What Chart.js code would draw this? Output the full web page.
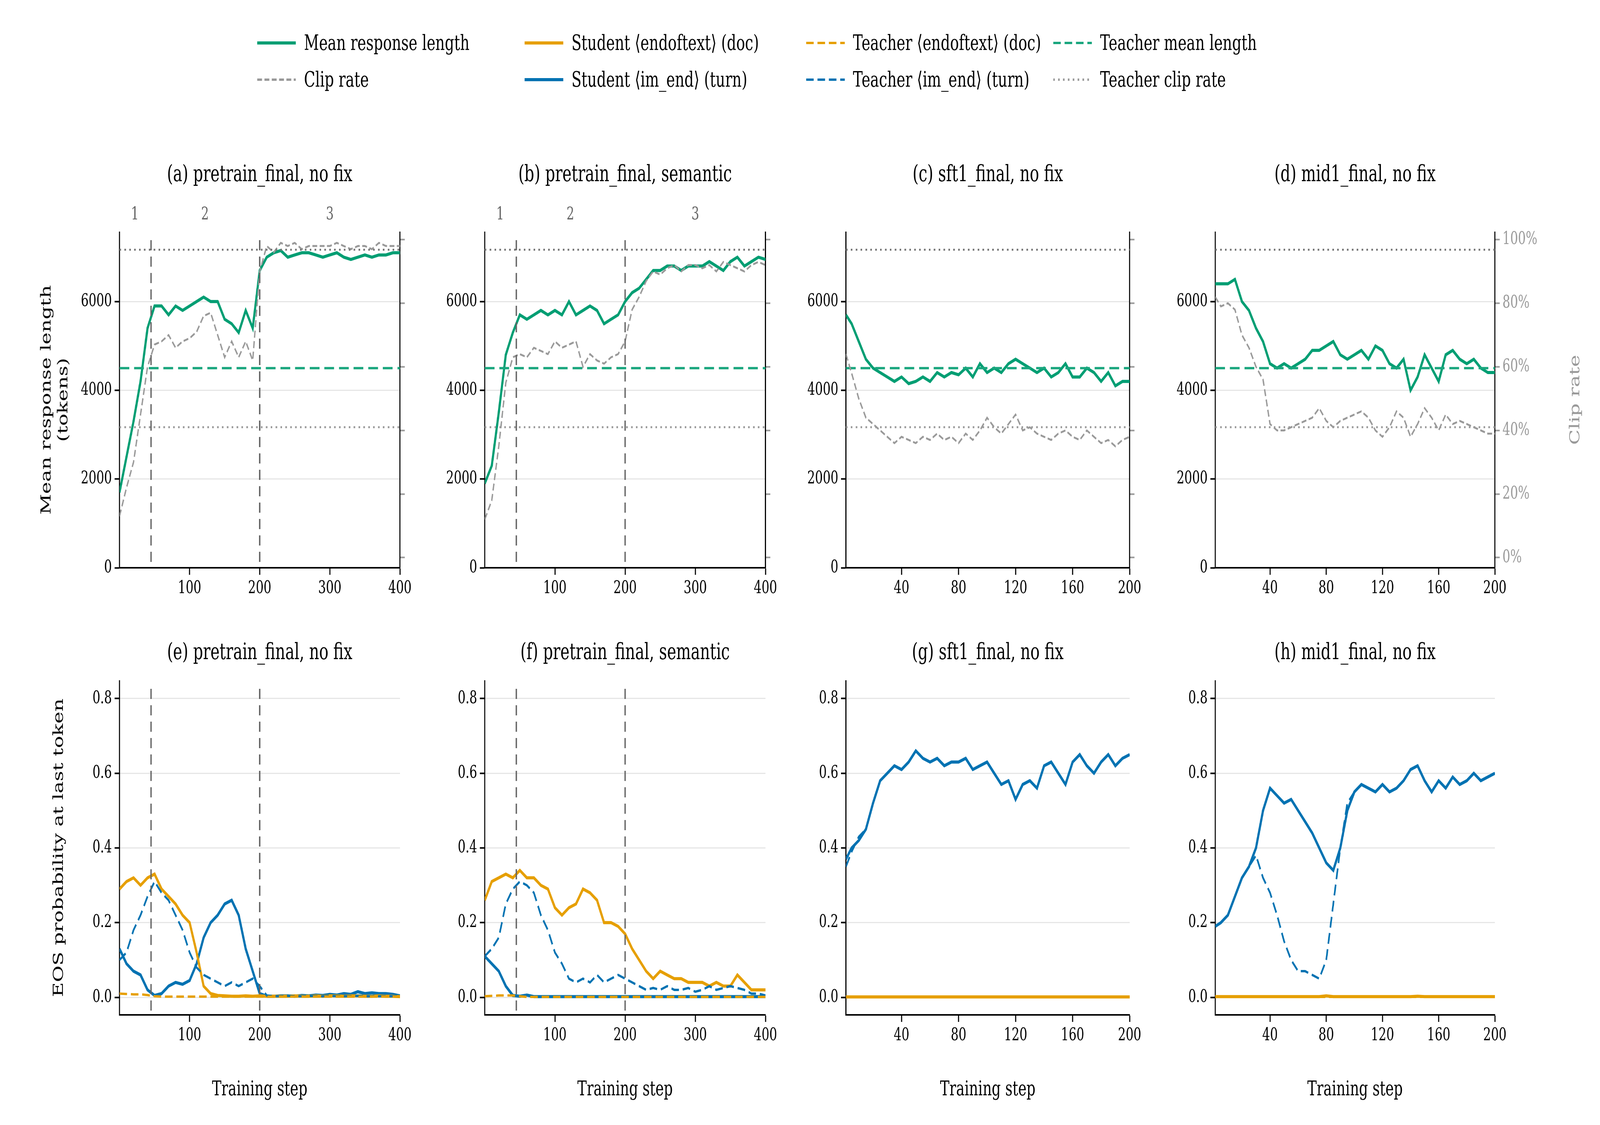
<!DOCTYPE html>
<html>
<head>
<meta charset="utf-8">
<script src="https://cdn.jsdelivr.net/npm/chart.js@4.4.1/dist/chart.umd.min.js"></script>
<style>
  html, body { margin: 0; background: #fff; overflow: hidden; }
  #stage { width: 5905px; height: 2881px; position: absolute; left: 0; top: 0; transform-origin: 0 0; font-family: "DejaVu Serif", serif; }
  .panel { position: absolute; }
  .txt { position: absolute; white-space: nowrap; color: #000; }
  .title { font-size: 57px; transform: translate(-50%, -50%); }
  .ytitle { font-size: 52px; transform: translate(-50%, -50%) rotate(-90deg); text-align: center; line-height: 1.2; }
  .xtitle { font-size: 52px; transform: translate(-50%, -50%); }
  .leg { position: absolute; font-size: 54px; display: flex; align-items: center; }
  .leg svg { margin-right: 30px; }
</style>
</head>
<body>
<div id="stage"></div>
<script>
// step grids
const steps400 = [0,10,20,30,40,50,60,70,80,90,100,110,120,130,140,150,160,170,180,190,200,210,220,230,240,250,260,270,280,290,300,310,320,330,340,350,360,370,380,390,400];
const steps200 = [1,5,10,15,20,25,30,35,40,45,50,55,60,65,70,75,80,85,90,95,100,105,110,115,120,125,130,135,140,145,150,155,160,165,170,175,180,185,190,195,200];

// (a) pretrain_final, no fix
const lenA = [1700,2500,3300,4200,5400,5900,5900,5700,5900,5800,5900,6000,6100,6000,6000,5600,5500,5300,5800,5400,6700,7000,7100,7150,7000,7050,7100,7100,7050,7000,7050,7100,7000,6950,7000,7050,7000,7050,7050,7100,7100];
const clipA = [13,22,30,45,60,67,68,70,66,68,69,71,76,77,70,63,68,63,68,62,90,98,96,99,98,99,97,98,98,98,98,99,98,97,98,98,97,99,98,98,98];
// (b) pretrain_final, semantic
const lenB = [1900,2300,3500,4800,5300,5700,5600,5700,5800,5700,5800,5700,6000,5700,5800,5900,5800,5500,5600,5700,6000,6200,6300,6500,6700,6700,6800,6800,6700,6800,6800,6800,6900,6800,6700,6900,7000,6800,6900,7000,6950];
const clipB = [12,18,35,55,63,64,63,66,65,64,68,66,67,68,60,64,62,61,63,64,68,78,82,87,90,89,91,92,90,92,92,91,92,90,93,92,91,90,92,93,92];
// (c) sft1_final, no fix
const lenC = [5700,5500,5100,4700,4500,4400,4300,4200,4300,4150,4200,4300,4200,4400,4300,4400,4350,4500,4300,4600,4400,4500,4400,4600,4700,4600,4500,4400,4500,4300,4400,4600,4300,4300,4500,4400,4200,4400,4100,4200,4200];
const clipC = [64,58,50,44,42,40,38,36,38,37,36,38,37,39,37,38,36,39,37,40,44,41,39,42,45,40,41,39,38,37,39,40,38,37,40,38,36,37,35,37,38];
// (d) mid1_final, no fix
const lenD = [6400,6400,6400,6500,6000,5800,5400,5100,4600,4500,4600,4500,4600,4700,4900,4900,5000,5100,4800,4700,4800,4900,4700,5000,4900,4600,4500,4700,4000,4300,4800,4500,4200,4800,4900,4700,4600,4700,4500,4400,4400];
const clipD = [82,79,80,78,70,66,60,56,42,40,40,41,42,43,44,47,43,41,43,44,45,46,44,40,38,41,46,44,38,42,47,44,40,45,42,43,42,41,40,39,39];

// (e) EOS probabilities
const stuDocE = [0.29,0.31,0.32,0.30,0.32,0.33,0.29,0.27,0.25,0.22,0.20,0.12,0.03,0.01,0.005,0.004,0.003,0.003,0.004,0.003,0.004,0.003,0.003,0.003,0.003,0.004,0.003,0.003,0.004,0.003,0.004,0.004,0.003,0.004,0.004,0.003,0.003,0.004,0.003,0.003,0.002];
const stuTurnE = [0.13,0.09,0.07,0.06,0.02,0.005,0.01,0.03,0.04,0.035,0.045,0.09,0.16,0.20,0.22,0.25,0.26,0.22,0.13,0.07,0.01,0.003,0.003,0.004,0.004,0.003,0.005,0.004,0.006,0.005,0.008,0.006,0.01,0.008,0.015,0.01,0.012,0.01,0.01,0.008,0.004];
const teaDocE = [0.010,0.009,0.008,0.008,0.006,0.003,0.002,0.002,0.002,0.002,0.002,0.002,0.002,0.002,0.002,0.002,0.002,0.002,0.002,0.002,0.002,0.002,0.002,0.002,0.002,0.002,0.002,0.002,0.002,0.002,0.002,0.002,0.002,0.002,0.002,0.002,0.002,0.002,0.002,0.002,0.002];
const teaTurnE = [0.10,0.12,0.18,0.22,0.27,0.31,0.28,0.26,0.22,0.18,0.12,0.08,0.06,0.05,0.04,0.03,0.04,0.03,0.04,0.05,0.03,0.005,0.003,0.003,0.004,0.003,0.003,0.004,0.003,0.003,0.004,0.003,0.003,0.003,0.004,0.003,0.003,0.003,0.003,0.003,0.003];
// (f)
const stuDocF = [0.26,0.31,0.32,0.33,0.32,0.34,0.32,0.32,0.30,0.29,0.24,0.22,0.24,0.25,0.29,0.28,0.26,0.20,0.20,0.19,0.17,0.13,0.10,0.07,0.05,0.07,0.06,0.05,0.05,0.04,0.04,0.04,0.03,0.04,0.03,0.03,0.06,0.04,0.02,0.02,0.02];
const stuTurnF = [0.11,0.09,0.07,0.03,0.005,0.003,0.006,0.002,0.002,0.002,0.002,0.002,0.002,0.002,0.002,0.002,0.002,0.002,0.002,0.002,0.002,0.002,0.002,0.002,0.002,0.002,0.002,0.002,0.002,0.002,0.002,0.002,0.002,0.002,0.002,0.002,0.002,0.002,0.002,0.002,0.002];
const teaDocF = [0.003,0.004,0.005,0.005,0.005,0.003,0.001,0.001,0.001,0.001,0.001,0.001,0.001,0.001,0.001,0.001,0.001,0.001,0.001,0.001,0.001,0.001,0.001,0.001,0.001,0.001,0.001,0.001,0.001,0.001,0.001,0.001,0.001,0.001,0.001,0.001,0.001,0.001,0.001,0.001,0.001];
const teaTurnF = [0.11,0.13,0.16,0.25,0.29,0.31,0.30,0.28,0.22,0.18,0.12,0.09,0.05,0.04,0.05,0.04,0.06,0.04,0.05,0.06,0.05,0.04,0.03,0.02,0.025,0.02,0.03,0.02,0.02,0.025,0.015,0.02,0.03,0.02,0.025,0.03,0.025,0.02,0.01,0.01,0.005];
// (g)
const stuDocG = [0.001,0.001,0.001,0.001,0.001,0.001,0.001,0.001,0.001,0.001,0.001,0.001,0.001,0.001,0.001,0.001,0.001,0.001,0.001,0.001,0.001,0.001,0.001,0.001,0.001,0.001,0.001,0.001,0.001,0.001,0.001,0.001,0.001,0.001,0.001,0.001,0.001,0.001,0.001,0.001,0.001];
const stuTurnG = [0.37,0.40,0.42,0.45,0.52,0.58,0.60,0.62,0.61,0.63,0.66,0.64,0.63,0.64,0.62,0.63,0.63,0.64,0.61,0.62,0.63,0.60,0.57,0.58,0.53,0.57,0.58,0.56,0.62,0.63,0.60,0.57,0.63,0.65,0.62,0.60,0.63,0.65,0.62,0.64,0.65];
const teaDocG = [0.001,0.001,0.001,0.001,0.001,0.001,0.001,0.001,0.001,0.001,0.001,0.001,0.001,0.001,0.001,0.001,0.001,0.001,0.001,0.001,0.001,0.001,0.001,0.001,0.001,0.001,0.001,0.001,0.001,0.001,0.001,0.001,0.001,0.001,0.001,0.001,0.001,0.001,0.001,0.001,0.001];
const teaTurnG = [0.35,0.39,0.43,0.45,0.52,0.58,0.60,0.62,0.61,0.63,0.66,0.64,0.63,0.64,0.62,0.63,0.63,0.64,0.61,0.62,0.63,0.60,0.57,0.58,0.53,0.57,0.58,0.56,0.62,0.63,0.60,0.57,0.63,0.65,0.62,0.60,0.63,0.65,0.62,0.64,0.65];
// (h)
const stuDocH = [0.002,0.002,0.002,0.002,0.002,0.002,0.002,0.002,0.002,0.002,0.002,0.002,0.002,0.002,0.002,0.002,0.004,0.002,0.002,0.002,0.002,0.002,0.002,0.002,0.002,0.002,0.002,0.002,0.002,0.003,0.002,0.002,0.002,0.002,0.002,0.002,0.002,0.002,0.002,0.002,0.002];
const stuTurnH = [0.19,0.20,0.22,0.27,0.32,0.35,0.40,0.50,0.56,0.54,0.52,0.53,0.50,0.47,0.44,0.40,0.36,0.34,0.40,0.50,0.55,0.57,0.56,0.55,0.57,0.55,0.56,0.58,0.61,0.62,0.58,0.55,0.58,0.56,0.59,0.57,0.58,0.60,0.58,0.59,0.60];
const teaDocH = [0.001,0.001,0.001,0.001,0.001,0.001,0.001,0.001,0.001,0.001,0.001,0.001,0.001,0.001,0.001,0.001,0.001,0.001,0.001,0.001,0.001,0.001,0.001,0.001,0.001,0.001,0.001,0.001,0.001,0.001,0.001,0.001,0.001,0.001,0.001,0.001,0.001,0.001,0.001,0.001,0.001];
const teaTurnH = [0.19,0.20,0.22,0.27,0.32,0.35,0.38,0.32,0.28,0.22,0.15,0.10,0.07,0.07,0.06,0.05,0.10,0.25,0.40,0.52,0.55,0.57,0.56,0.55,0.57,0.55,0.56,0.58,0.61,0.62,0.58,0.55,0.58,0.56,0.59,0.57,0.58,0.60,0.58,0.59,0.60];

// reference levels and ticks
const teacherMeanLen = [4500];
const maxLenLine = [7168];
const teacherClip = [41];
const phaseBounds = [45, 200];
const phaseNames = ["1", "2", "3"];
const phaseNameSteps = [22, 122, 300];
const xTicks400 = [100, 200, 300, 400];
const xTicks200 = [40, 80, 120, 160, 200];
const lenTicks = [0, 2000, 4000, 6000];
const clipTicks = [0, 20, 40, 60, 80, 100];
const eosTicks = [0.0, 0.2, 0.4, 0.6, 0.8];

const GREEN = "#009e73", ORANGE = "#e69f00", BLUE = "#0072b2", GRAY = "#999999";
Chart.defaults.font.family = "'DejaVu Serif', serif";
Chart.defaults.font.size = 45;
Chart.defaults.color = "#000";

const stage = document.getElementById("stage");
stage.style.transform = `scale(${window.innerWidth / 5905}, ${window.innerHeight / 2881})`;

const plotX = [[441, 1476], [1789, 2825], [3122, 4169], [4485, 5517]];
const plotY = [[595, 1454], [1744, 2599]];
const LEFTW = 180, RIGHTW = 210, TOPP = 110, BOTH = 100;

function addText(cls, x, y, html, extra) {
  const d = document.createElement("div");
  d.className = "txt " + cls;
  d.style.left = x + "px";
  d.style.top = y + "px";
  d.innerHTML = html;
  if (extra) Object.assign(d.style, extra);
  stage.appendChild(d);
}

const pts = (xs, ys) => xs.map((x, i) => ({ x, y: ys[i] }));
const hline = (xs, v) => [{ x: xs[0], y: v }, { x: xs[xs.length - 1], y: v }];

const phasePlugin = {
  id: "phases",
  afterDatasetsDraw(chart, args, opts) {
    if (!opts.on) return;
    const { ctx, chartArea, scales } = chart;
    ctx.save();
    ctx.strokeStyle = "#666";
    ctx.lineWidth = 5;
    ctx.setLineDash([26, 16]);
    phaseBounds.forEach((s) => {
      const px = scales.x.getPixelForValue(s);
      ctx.beginPath();
      ctx.moveTo(px, chartArea.top + 20);
      ctx.lineTo(px, chartArea.bottom);
      ctx.stroke();
    });
    if (opts.labels) {
      ctx.fillStyle = "#666";
      ctx.font = "45px 'DejaVu Serif'";
      ctx.textAlign = "center";
      ctx.textBaseline = "middle";
      phaseNames.forEach((n, i) => ctx.fillText(n, scales.x.getPixelForValue(phaseNameSteps[i]), chartArea.top - 45));
    }
    ctx.restore();
  },
};

function line(data, color, width, dash, axis) {
  return { data, borderColor: color, borderWidth: width, borderDash: dash || [], pointRadius: 0, yAxisID: axis || "y", tension: 0 };
}

function makePanel(row, col, datasets, cfg) {
  const [x0, x1] = plotX[col];
  const [y0, y1] = plotY[row];
  const div = document.createElement("div");
  div.className = "panel";
  div.style.left = (x0 - LEFTW) + "px";
  div.style.top = (y0 - TOPP) + "px";
  div.style.width = (x1 - x0 + LEFTW + RIGHTW) + "px";
  div.style.height = (y1 - y0 + TOPP + BOTH) + "px";
  const canvas = document.createElement("canvas");
  div.appendChild(canvas);
  stage.appendChild(div);

  const scales = {
    x: {
      type: "linear", min: cfg.xmin, max: cfg.xmax,
      afterBuildTicks: (s) => { s.ticks = cfg.xticks.map((v) => ({ value: v })); },
      afterFit: (s) => { s.height = BOTH; },
      grid: { display: true, drawOnChartArea: false, tickLength: 18, tickColor: "#000", tickWidth: 4 },
      border: { color: "#000", width: 4 },
      ticks: { padding: 8, maxRotation: 0 },
    },
    y: {
      min: cfg.ymin, max: cfg.ymax,
      afterBuildTicks: (s) => { s.ticks = cfg.yticks.map((v) => ({ value: v })); },
      afterFit: (s) => { s.width = LEFTW; },
      grid: { color: "#e6e6e6", lineWidth: 3, tickLength: 18, tickColor: "#000", tickWidth: 4 },
      border: { color: "#000", width: 4 },
      ticks: { padding: 10, callback: cfg.yfmt },
    },
  };
  if (cfg.right) {
    scales.y1 = {
      position: "right", min: -3.2, max: 102.3,
      afterBuildTicks: (s) => { s.ticks = clipTicks.map((v) => ({ value: v })); },
      afterFit: (s) => { s.width = RIGHTW; },
      grid: { drawOnChartArea: false, tickLength: 18, tickColor: GRAY, tickWidth: 4 },
      border: { color: "#000", width: 4 },
      ticks: { color: GRAY, padding: 10, callback: (v) => (cfg.rightLabels ? v + "%" : "") },
    };
  }
  new Chart(canvas, {
    type: "line",
    data: { datasets },
    options: {
      responsive: true, maintainAspectRatio: false, animation: false,
      layout: { padding: { top: TOPP, right: cfg.right ? 0 : RIGHTW } },
      plugins: { legend: { display: false }, tooltip: { enabled: false }, phases: { on: !!cfg.phases, labels: cfg.phases && row === 0 } },
      scales,
    },
    plugins: [phasePlugin],
  });
  addText("title", (x0 + x1) / 2, row === 0 ? 444 : 1668, cfg.title);
  if (row === 1) addText("xtitle", (x0 + x1) / 2, 2787, "Training step");
}

function topPanel(col, xs, len, clip, cfg) {
  const ds = [
    line(hline(xs, maxLenLine[0]), "#777", 5, [6, 12]),
    line(hline(xs, teacherClip[0]), GRAY, 5, [6, 12], "y1"),
    line(pts(xs, clip), GRAY, 5, [18, 9], "y1"),
    line(hline(xs, teacherMeanLen[0]), "#1aa67e", 6, [36, 18]),
    line(pts(xs, len), GREEN, 8),
  ];
  makePanel(0, col, ds, Object.assign({ ymin: 0, ymax: 7560, yticks: lenTicks, right: true, yfmt: (v) => v }, cfg));
}

function botPanel(col, xs, sd, st, td, tt, cfg) {
  const ds = [
    line(pts(xs, td), ORANGE, 6, [28, 14]),
    line(pts(xs, tt), BLUE, 6, [28, 14]),
    line(pts(xs, sd), ORANGE, 8),
    line(pts(xs, st), BLUE, 8),
  ];
  makePanel(1, col, ds, Object.assign({ ymin: -0.047, ymax: 0.847, yticks: eosTicks, yfmt: (v) => v.toFixed(1) }, cfg));
}

const c400 = { xmin: 0, xmax: 400, xticks: xTicks400 };
const c200 = { xmin: 1, xmax: 200, xticks: xTicks200 };
topPanel(0, steps400, lenA, clipA, Object.assign({ title: "(a) pretrain_final, no fix", phases: true }, c400));
topPanel(1, steps400, lenB, clipB, Object.assign({ title: "(b) pretrain_final, semantic", phases: true }, c400));
topPanel(2, steps200, lenC, clipC, Object.assign({ title: "(c) sft1_final, no fix" }, c200));
topPanel(3, steps200, lenD, clipD, Object.assign({ title: "(d) mid1_final, no fix", rightLabels: true }, c200));
botPanel(0, steps400, stuDocE, stuTurnE, teaDocE, teaTurnE, Object.assign({ title: "(e) pretrain_final, no fix", phases: true }, c400));
botPanel(1, steps400, stuDocF, stuTurnF, teaDocF, teaTurnF, Object.assign({ title: "(f) pretrain_final, semantic", phases: true }, c400));
botPanel(2, steps200, stuDocG, stuTurnG, teaDocG, teaTurnG, Object.assign({ title: "(g) sft1_final, no fix" }, c200));
botPanel(3, steps200, stuDocH, stuTurnH, teaDocH, teaTurnH, Object.assign({ title: "(h) mid1_final, no fix" }, c200));

addText("ytitle", 200, 1024, "Mean response length<br>(tokens)");
addText("ytitle", 215, 2171, "EOS probability at last token");
addText("ytitle", 5811, 1024, "Clip rate", { color: GRAY });

// legend
const legendItems = [
  ["Mean response length", GREEN, 8, "", 949, 113],
  ["Clip rate", GRAY, 6, "18 9", 949, 207],
  ["Student \u27e8endoftext\u27e9 (doc)", ORANGE, 8, "", 1936, 113],
  ["Student \u27e8im_end\u27e9 (turn)", BLUE, 8, "", 1936, 207],
  ["Teacher \u27e8endoftext\u27e9 (doc)", ORANGE, 6, "28 14", 2975, 113],
  ["Teacher \u27e8im_end\u27e9 (turn)", BLUE, 6, "28 14", 2975, 207],
  ["Teacher mean length", "#1aa67e", 6, "28 14", 3887, 113],
  ["Teacher clip rate", GRAY, 6, "6 12", 3887, 207],
];
legendItems.forEach(([label, color, w, dash, x, y]) => {
  const d = document.createElement("div");
  d.className = "leg";
  d.style.left = x + "px";
  d.style.top = (y - 35) + "px";
  d.innerHTML = `<svg width="143" height="20"><line x1="0" y1="10" x2="143" y2="10" stroke="${color}" stroke-width="${w}" stroke-dasharray="${dash}"/></svg><span>${label}</span>`;
  stage.appendChild(d);
});
</script>
</body>
</html>
